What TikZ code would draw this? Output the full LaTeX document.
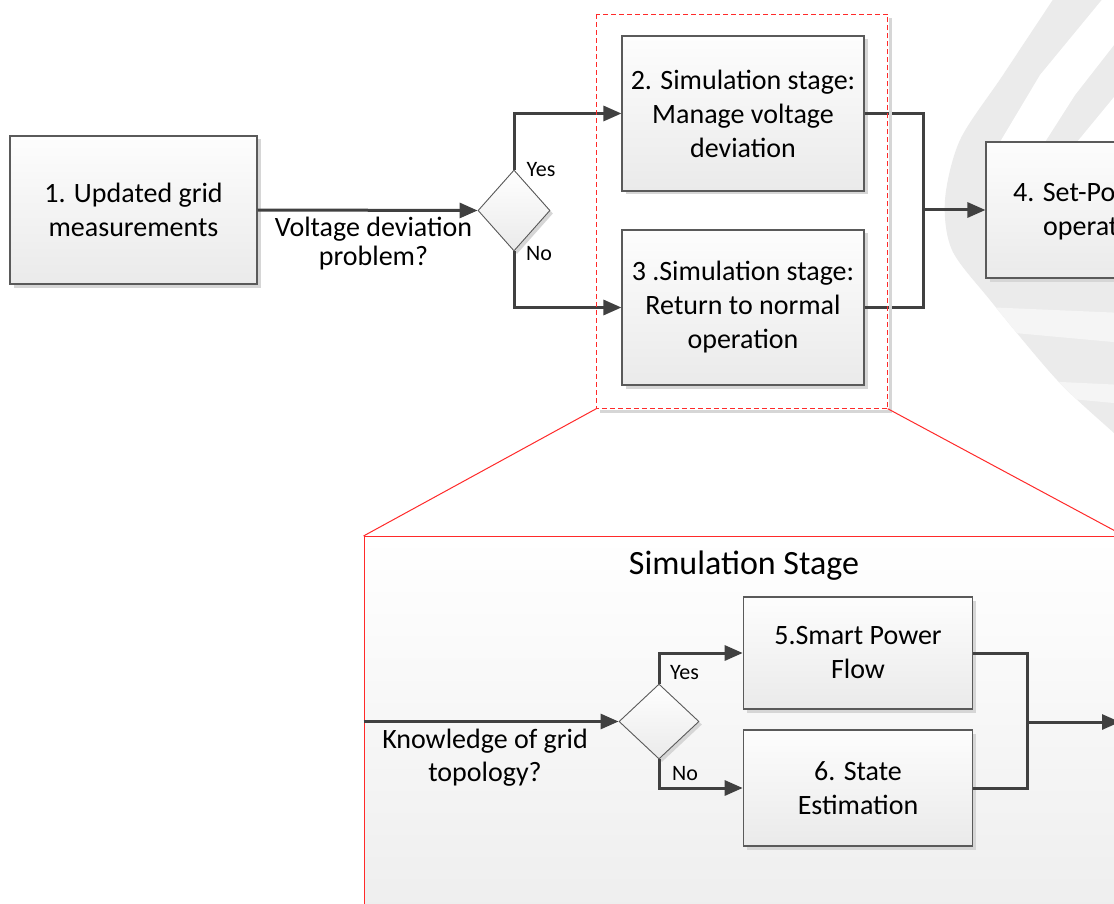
\documentclass[tikz,border=0pt]{standalone}
\usepackage{fontspec}
\setmainfont{Carlito}
\usetikzlibrary{arrows.meta,shapes.geometric,shadows,calc}

\definecolor{ink}{HTML}{404040}
\definecolor{boxline}{HTML}{5A5A5A}
\definecolor{boxtop}{HTML}{FDFDFD}
\definecolor{boxbot}{HTML}{EAEAEA}
\definecolor{shadowgray}{HTML}{D6D6D6}
\definecolor{zoomred}{HTML}{FF2A2A}
\definecolor{wm}{HTML}{EBEBEB}
\definecolor{wmlight}{HTML}{F5F5F5}

\tikzset{
  every node/.style={inner sep=0pt, font=\fontsize{28}{34}\selectfont},
  stepbox/.style={rectangle, draw=boxline, line width=1.1pt,
    top color=boxtop, bottom color=boxbot, align=center,
    drop shadow={shadow xshift=3.5pt, shadow yshift=-3.5pt, fill=shadowgray, opacity=1}},
  decision/.style={diamond, draw=boxline, line width=0.9pt,
    top color=white, bottom color=boxbot,
    drop shadow={shadow xshift=3pt, shadow yshift=-3pt, fill=shadowgray, opacity=1}},
  flow/.style={draw=ink, line width=3pt, line join=miter},
  flowarrow/.style={flow, -{Triangle[length=18pt, width=15pt]}},
  tag/.style={font=\fontsize{22}{26}\selectfont},
  question/.style={align=center},
  zoomline/.style={draw=zoomred, line width=1pt},
  zoomframe/.style={draw=zoomred, line width=1.4pt, dash pattern=on 5pt off 3pt},
  frameshadow/.style={draw=shadowgray, line width=3pt},
}

\begin{document}
\begin{tikzpicture}[x=1pt, y=-1pt]
\useasboundingbox (0,0) rectangle (1114,904);
\clip (0,0) rectangle (1114,904);
\fill[white] (0,0) rectangle (1114,904);

% faint striped logo in the background
\begin{scope}
  \clip plot[smooth] coordinates {(1058,-8) (1003,75) (960,140) (945,200) (952,250)
        (990,300) (1057,380) (1114,433) (1124,442)} -- (1124,-8) -- cycle;
  \fill[wm] (900,-10) rectangle (1124,460);
  \fill[white] (1110,-10) -- (1040,75) -- (1000,142) -- (1045,142) -- (1075,95)
        -- (1114,45) -- (1124,-10) -- cycle;
  \fill[white] (1124,85) -- (1077,142) -- (1124,142) -- cycle;
  \fill[wmlight] (960,306) -- (1124,313) -- (1124,343) -- (960,328) -- cycle;
  \fill[wmlight] (1040,381) -- (1124,385) -- (1124,404) -- (1040,396) -- cycle;
\end{scope}

% enlarged view of the simulation stage
\node[rectangle, draw=zoomred, line width=1pt, top color=white, bottom color=boxbot,
      minimum width=760pt, minimum height=464pt] (bigbox) at (744,768.5) {};
\node[font=\fontsize{34}{40}\selectfont] (title) at (744,566) {Simulation Stage};

% main flow
\node[stepbox, minimum width=247pt, minimum height=148pt] (n1) at (133.5,210) {1. Updated grid\\measurements};
\node[decision, minimum width=72pt, minimum height=81pt] (d1) at (514,210.5) {};
\node[stepbox, minimum width=242pt, minimum height=155pt] (n2) at (743,113.5) {2. Simulation stage:\\Manage voltage\\deviation};
\node[stepbox, minimum width=242pt, minimum height=155pt] (n3) at (743,307.5) {3 .Simulation stage:\\Return to normal\\operation};
\node[stepbox, minimum width=242pt, minimum height=136pt] (n4) at (1107,210) {};
\node[anchor=base west] (n4a) at (1013,202) {4. Set-Point};
\node[anchor=base west] (n4b) at (1043,236) {operation};

\node[question, font=\fontsize{28}{29}\selectfont] (q1) at (373.5,244) {Voltage deviation\\problem?};
\node[tag] (y1) at (541,169.5) {Yes};
\node[tag] (o1) at (539,253.5) {No};

\coordinate (j1) at (923,210);
\draw[flowarrow] (n1.east) -- (d1.west);
\draw[flowarrow] (d1.north) |- (n2.west);
\draw[flowarrow] (d1.south) |- (n3.west);
\draw[flow] (n2.east) -| (j1);
\draw[flow] (n3.east) -| (j1);
\draw[flowarrow] (j1) -- (n4.west);

% dashed frame around stages 2 and 3
\node[rectangle, minimum width=291pt, minimum height=394pt] (frame) at (742,211.5) {};
\draw[frameshadow] ($(frame.north east)+(3,4)$) -- ($(frame.south east)+(3,3)$) -- ($(frame.south west)+(4,3)$);
\draw[zoomframe] (frame.north west) rectangle (frame.south east);
\draw[zoomline] (frame.south west) -- (bigbox.north west);
\draw[zoomline] (frame.south east) -- (bigbox.north east);

% inner flow
\node[decision, minimum width=80pt, minimum height=75pt] (d2) at (659,721.5) {};
\node[stepbox, minimum width=229.5pt, minimum height=112pt] (n5) at (858,653) {5.Smart Power\\Flow};
\node[stepbox, minimum width=229.5pt, minimum height=116pt] (n6) at (858,788) {6. State\\Estimation};
\node[question, font=\fontsize{28}{33}\selectfont] (q2) at (485,758) {Knowledge of grid\\topology?};
\node[tag] (y2) at (684.5,672.5) {Yes};
\node[tag] (o2) at (685,773.5) {No};

\coordinate (j2) at (1027,722);
\coordinate (out) at (1120,722);
\draw[flowarrow] (bigbox.west |- d2) -- (d2.west);
\draw[flowarrow] (d2.north) |- (n5.west);
\draw[flowarrow] (d2.south) |- (n6.west);
\draw[flow] (n5.east) -| (j2);
\draw[flow] (n6.east) -| (j2);
\draw[flowarrow] (j2) -- (out);
\end{tikzpicture}
\end{document}
